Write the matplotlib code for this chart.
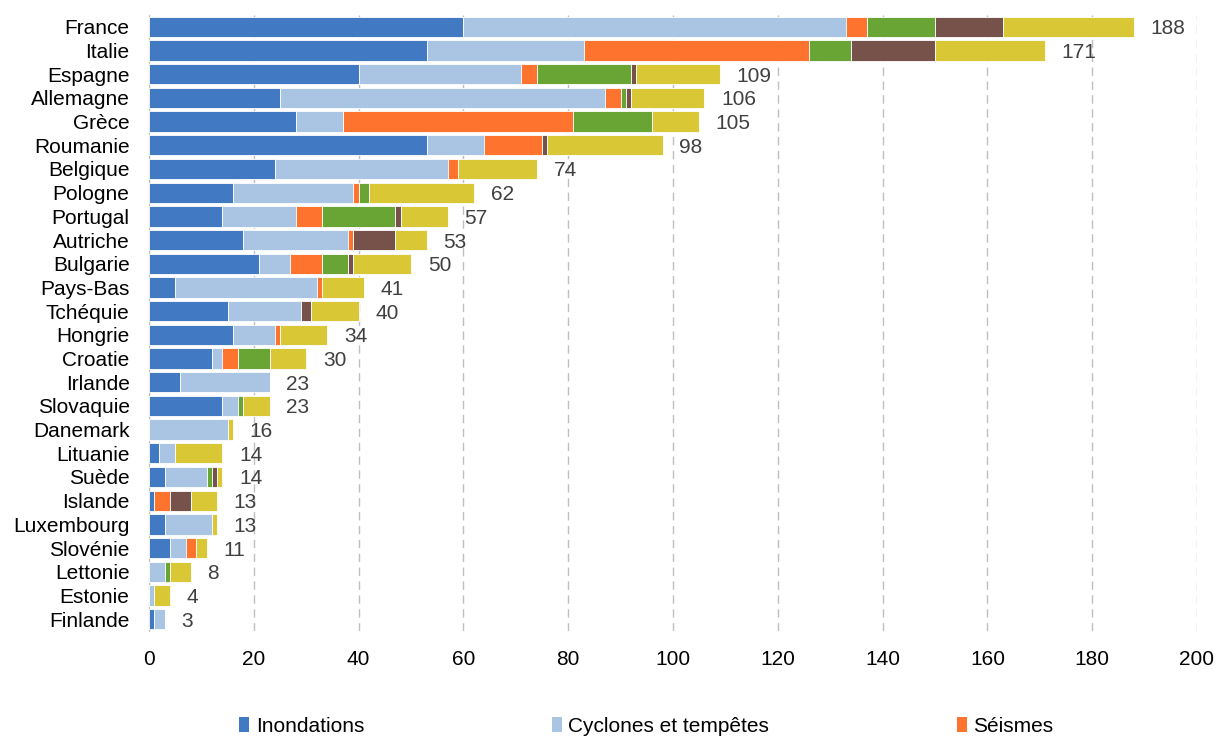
import numpy as np
import matplotlib.pyplot as plt
from matplotlib.patches import Patch

plt.rcParams['font.family'] = ['Liberation Sans', 'DejaVu Sans']

pays = ["France", "Italie", "Espagne", "Allemagne", "Grèce", "Roumanie", "Belgique",
        "Pologne", "Portugal", "Autriche", "Bulgarie", "Pays-Bas", "Tchéquie", "Hongrie",
        "Croatie", "Irlande", "Slovaquie", "Danemark", "Lituanie", "Suède", "Islande",
        "Luxembourg", "Slovénie", "Lettonie", "Estonie", "Finlande"]

inondations = [60, 53, 40, 25, 28, 53, 24, 16, 14, 18, 21, 5, 15, 16, 12, 6, 14, 0, 2, 3, 1, 3, 4, 0, 0, 1]
cyclones = [73, 30, 31, 62, 9, 11, 33, 23, 14, 20, 6, 27, 14, 8, 2, 17, 3, 15, 3, 8, 0, 9, 3, 3, 1, 2]
seismes = [4, 43, 3, 3, 44, 11, 2, 1, 5, 1, 6, 1, 0, 1, 3, 0, 0, 0, 0, 0, 3, 0, 2, 0, 0, 0]
glissements = [13, 8, 18, 1, 15, 0, 0, 2, 14, 0, 5, 0, 0, 0, 6, 0, 1, 0, 0, 1, 0, 0, 0, 1, 0, 0]
volcans = [13, 16, 1, 1, 0, 1, 0, 0, 1, 8, 1, 0, 2, 0, 0, 0, 0, 0, 0, 1, 4, 0, 0, 0, 0, 0]
secheresses = [25, 21, 16, 14, 9, 22, 15, 20, 9, 6, 11, 8, 9, 9, 7, 0, 5, 1, 9, 1, 5, 1, 2, 4, 3, 0]
totaux = [188, 171, 109, 106, 105, 98, 74, 62, 57, 53, 50, 41, 40, 34, 30, 23, 23, 16, 14, 14, 13, 13, 11, 8, 4, 3]

series = [
    ("Inondations", inondations, '#4179C3'),
    ("Cyclones et tempêtes", cyclones, '#AAC4E3'),
    ("Séismes", seismes, '#FE742E'),
    ("Mouvements de terrain", glissements, '#69A534'),
    ("Éruptions volcaniques", volcans, '#76524A'),
    ("Sécheresses", secheresses, '#D9C735'),
]

fig = plt.figure(figsize=(12.17, 7.38), dpi=100)
ax = fig.add_axes([149 / 1217, 1 - 631 / 738, (1197 - 149) / 1217, (631 - 15) / 738])

y = np.arange(len(pays))
left = np.zeros(len(pays))
for nom, vals, couleur in series:
    vals = np.array(vals, dtype=float)
    ax.barh(y, vals, left=left, height=0.86, color=couleur, edgecolor='white',
            linewidth=0.6, zorder=3)
    left += vals

# totaux en bout de barre
for yi, tot in zip(y, totaux):
    ax.annotate(str(tot), xy=(tot, yi), xytext=(12, 0), textcoords='offset points',
                ha='left', va='center_baseline', fontsize=15, color='#404040')

ax.set_ylim(len(pays) - 0.5, -0.5)
ax.set_xlim(0, 200)
ax.set_xticks(np.arange(0, 201, 20))
ax.set_yticks(y)
ax.set_yticklabels(pays)
ax.tick_params(axis='both', length=0, labelsize=15, colors='black')
ax.tick_params(axis='x', pad=14)
ax.tick_params(axis='y', pad=14)

ax.grid(axis='x', color='#BFBFBF', linestyle=(0, (6, 4)), linewidth=1, zorder=0)
for s in ['top', 'right', 'bottom']:
    ax.spines[s].set_visible(False)
ax.spines['left'].set_color('#BFBFBF')

handles = [Patch(facecolor=c, label=n) for n, v, c in series[:3]]
fig.legend(handles=handles, loc='center', bbox_to_anchor=(0.531, 1 - 726 / 738), ncol=3,
           frameon=False, fontsize=15, handlelength=0.5, handleheight=0.7,
           handletextpad=0.3, columnspacing=9.0)

fig.savefig('out.png', dpi=100)
